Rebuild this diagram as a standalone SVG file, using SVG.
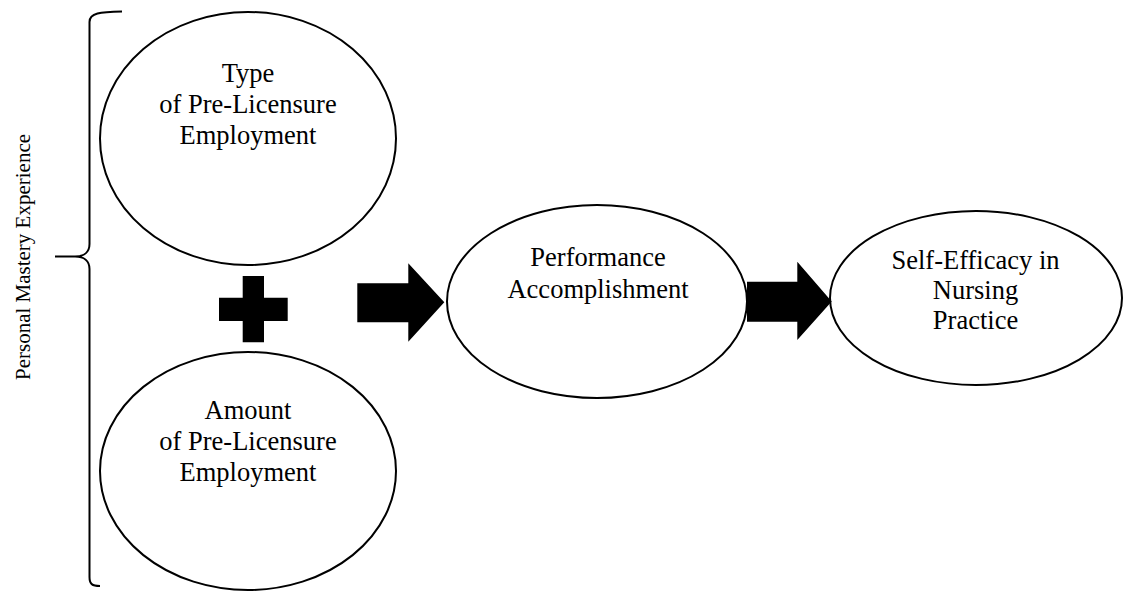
<svg xmlns="http://www.w3.org/2000/svg" width="1126" height="592" viewBox="0 0 1126 592">
<style>
.node{fill:#fff;stroke:#000;stroke-width:2}
.lbl{font-family:"Liberation Serif","Times New Roman",serif;font-size:26.5px;fill:#000;text-anchor:middle}
.side{font-family:"Liberation Serif","Times New Roman",serif;font-size:21px;fill:#000;text-anchor:middle}
.brace{fill:none;stroke:#000;stroke-width:2}
.solid{fill:#000;stroke:none}
</style>
<rect width="1126" height="592" fill="#fff"/>
<g id="brace">
<path class="brace" d="M122,11.5 C100,12 89.5,13 89.5,22 L89.5,244 C89.5,252 84,256.5 75,256.5 L55,256.5 M75,256.5 C84,256.5 89.5,261 89.5,269 L89.5,577 C89.5,584 92,586 100,586"/>
<text class="side" transform="translate(30,257) rotate(-90)">Personal Mastery Experience</text>
</g>
<g id="node-type">
<ellipse class="node" cx="248" cy="138.5" rx="148" ry="126.5"/>
<text class="lbl" x="248" y="82">Type</text>
<text class="lbl" x="248" y="113">of Pre-Licensure</text>
<text class="lbl" x="248" y="143.5">Employment</text>
</g>
<g id="node-amount">
<ellipse class="node" cx="248" cy="471" rx="148" ry="119"/>
<text class="lbl" x="248" y="419">Amount</text>
<text class="lbl" x="248" y="450">of Pre-Licensure</text>
<text class="lbl" x="248" y="480.5">Employment</text>
</g>
<g id="plus">
<path class="solid" d="M242.7,276 H264 V297.7 H287.7 V321 H264 V342.3 H242.7 V321 H219 V297.7 H242.7 Z"/>
</g>
<g id="node-performance">
<ellipse class="node" cx="597" cy="301.5" rx="150" ry="96.5"/>
<text class="lbl" x="598" y="266">Performance</text>
<text class="lbl" x="598" y="298">Accomplishment</text>
</g>
<g id="node-selfefficacy">
<ellipse class="node" cx="976" cy="298" rx="146" ry="87"/>
<text class="lbl" x="975.5" y="269">Self-Efficacy in</text>
<text class="lbl" x="975.5" y="299">Nursing</text>
<text class="lbl" x="975.5" y="329">Practice</text>
</g>
<g id="connectors">
<path class="solid" d="M357.3,283.3 H408.3 V263.3 L444.3,302.3 L408.3,341.7 V322.3 H357.3 Z"/>
<path class="solid" d="M747,281.7 H797.3 V261.7 L831.7,301.5 L797.3,340 V321.7 H747 Z"/>
</g>
</svg>
